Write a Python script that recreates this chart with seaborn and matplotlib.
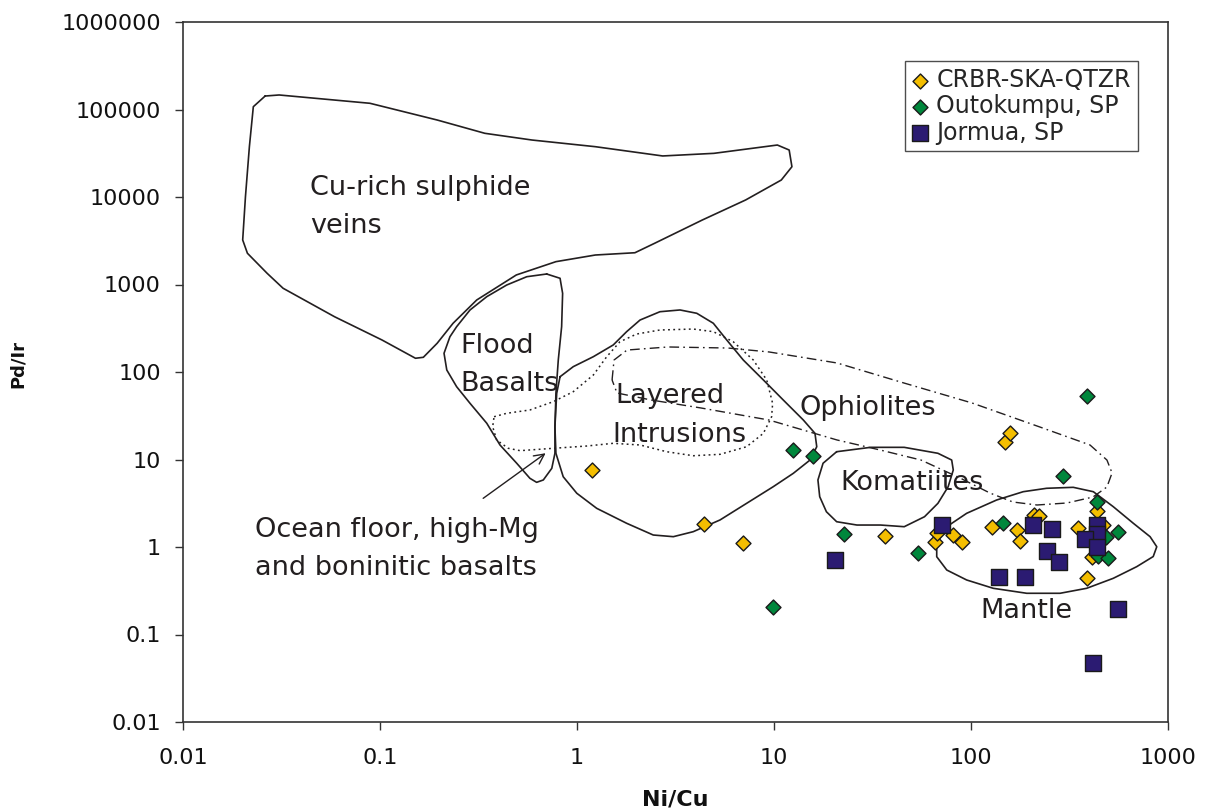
import numpy as np
import pandas as pd
import matplotlib
matplotlib.use("Agg")
import matplotlib.pyplot as plt
from matplotlib.ticker import FixedLocator, FixedFormatter, NullLocator
import seaborn as sns

# ---------------------------------------------------------------
# Sample analyses: Ni/Cu and Pd/Ir ratios
# ---------------------------------------------------------------
crbr_ni_cu = [1.19, 4.4, 7.0, 36.6, 65.6, 67.2, 81, 90, 128, 171, 178,
              209, 221, 149, 158, 349, 436, 470, 411, 388]
crbr_pd_ir = [7.6, 1.83, 1.10, 1.34, 1.14, 1.45, 1.37, 1.14, 1.69, 1.56, 1.17,
              2.32, 2.25, 15.8, 20.1, 1.65, 2.58, 1.8, 0.77, 0.44]

outokumpu_ni_cu = [9.9, 12.5, 15.8, 22.6, 53.8, 145, 388, 293, 436, 557,
                   484, 441, 496]
outokumpu_pd_ir = [0.206, 12.9, 11.0, 1.41, 0.85, 1.88, 53, 6.5, 3.27, 1.48,
                   1.30, 0.79, 0.75]

jormua_ni_cu = [20.4, 71.3, 139, 188, 206, 258, 243, 280, 436, 436, 379,
                436, 557, 416]
jormua_pd_ir = [0.71, 1.78, 0.454, 0.454, 1.78, 1.61, 0.90, 0.674, 1.78,
                1.41, 1.23, 1.0, 0.195, 0.047]

series_names = ["CRBR-SKA-QTZR", "Outokumpu, SP", "Jormua, SP"]
series_colors = ["#F4BE00", "#00873C", "#2B1B72"]
series_markers = ["D", "D", "s"]

# ---------------------------------------------------------------
# Compositional fields, vertices as (log10 Ni/Cu, log10 Pd/Ir)
# ---------------------------------------------------------------
field_cu_veins = [
    (-1.583, 5.154), (-1.512, 5.166), (-1.051, 5.071), (-0.710, 4.880),
    (-0.468, 4.728), (-0.228, 4.651), (0.093, 4.575), (0.435, 4.469),
    (0.695, 4.499), (1.017, 4.594), (1.077, 4.537), (1.091, 4.346),
    (1.037, 4.194), (0.856, 3.966), (0.636, 3.737), (0.394, 3.471),
    (0.294, 3.363), (0.093, 3.337), (-0.107, 3.261), (-0.308, 3.109),
    (-0.509, 2.823), (-0.629, 2.557), (-0.710, 2.328), (-0.780, 2.168),
    (-0.820, 2.157), (-0.990, 2.366), (-1.231, 2.632), (-1.492, 2.957),
    (-1.573, 3.128), (-1.673, 3.357), (-1.697, 3.509), (-1.683, 4.003),
    (-1.663, 4.575), (-1.643, 5.032)]

field_flood_basalts = [
    (-0.154, 3.120), (-0.086, 3.071), (-0.073, 2.899), (-0.078, 2.518),
    (-0.095, 2.137), (-0.107, 1.757), (-0.112, 1.375), (-0.112, 1.071),
    (-0.128, 0.899), (-0.171, 0.766), (-0.205, 0.739), (-0.239, 0.785),
    (-0.306, 0.957), (-0.391, 1.166), (-0.458, 1.414), (-0.543, 1.642),
    (-0.611, 1.832), (-0.661, 2.023), (-0.675, 2.214), (-0.645, 2.403),
    (-0.611, 2.518), (-0.543, 2.709), (-0.458, 2.861), (-0.357, 2.994),
    (-0.255, 3.089)]

field_layered = [
    (-0.086, 1.946), (-0.019, 2.061), (0.083, 2.175), (0.184, 2.309),
    (0.252, 2.461), (0.320, 2.594), (0.421, 2.689), (0.523, 2.709),
    (0.608, 2.671), (0.692, 2.557), (0.760, 2.366), (0.844, 2.137),
    (0.946, 1.909), (1.047, 1.680), (1.149, 1.451), (1.208, 1.299),
    (1.217, 1.146), (1.183, 0.994), (1.098, 0.842), (0.996, 0.689),
    (0.861, 0.499), (0.726, 0.309), (0.590, 0.175), (0.489, 0.118),
    (0.387, 0.137), (0.252, 0.271), (0.100, 0.442), (-0.001, 0.614),
    (-0.070, 0.803), (-0.107, 1.071), (-0.112, 1.375), (-0.103, 1.757)]

field_ocean_floor = [
    (-0.421, 1.489), (-0.357, 1.528), (-0.239, 1.566), (-0.120, 1.661),
    (-0.019, 1.775), (0.083, 1.966), (0.151, 2.175), (0.218, 2.346),
    (0.303, 2.434), (0.421, 2.480), (0.590, 2.491), (0.692, 2.461),
    (0.793, 2.346), (0.895, 2.137), (0.963, 1.909), (0.993, 1.642),
    (0.988, 1.489), (0.946, 1.299), (0.861, 1.146), (0.726, 1.059),
    (0.590, 1.043), (0.455, 1.089), (0.320, 1.166), (0.184, 1.185),
    (0.049, 1.154), (-0.120, 1.128), (-0.289, 1.101), (-0.349, 1.128),
    (-0.408, 1.223), (-0.428, 1.375)]

field_ophiolites = [
    (0.178, 1.909), (0.188, 2.137), (0.254, 2.251), (0.462, 2.286),
    (0.766, 2.274), (0.975, 2.229), (1.320, 2.103), (1.660, 1.874),
    (2.005, 1.646), (2.350, 1.371), (2.604, 1.166), (2.690, 0.994),
    (2.716, 0.846), (2.690, 0.686), (2.619, 0.571), (2.487, 0.503),
    (2.335, 0.480), (2.213, 0.514), (2.096, 0.617), (1.944, 0.789),
    (1.746, 0.994), (1.538, 1.109), (1.320, 1.223), (0.975, 1.451),
    (0.629, 1.589), (0.376, 1.680), (0.203, 1.760)]

field_komatiites = [
    (1.318, 1.089), (1.490, 1.139), (1.661, 1.139), (1.832, 1.071),
    (1.902, 0.994), (1.910, 0.880), (1.884, 0.689), (1.832, 0.499),
    (1.764, 0.346), (1.661, 0.232), (1.541, 0.251), (1.421, 0.251),
    (1.318, 0.289), (1.266, 0.403), (1.232, 0.575), (1.223, 0.766),
    (1.249, 0.957)]

field_mantle = [
    (1.826, 0.042), (1.877, 0.232), (1.978, 0.385), (2.130, 0.537),
    (2.265, 0.632), (2.384, 0.671), (2.519, 0.682), (2.621, 0.632),
    (2.722, 0.461), (2.824, 0.271), (2.909, 0.118), (2.943, 0.003),
    (2.925, -0.109), (2.841, -0.225), (2.722, -0.358), (2.587, -0.472),
    (2.452, -0.529), (2.283, -0.529), (2.113, -0.472), (1.978, -0.377),
    (1.877, -0.263), (1.826, -0.111)]

# Field labels: (text, Ni/Cu, Pd/Ir) at the left end of each baseline
field_labels = [
    ("Cu-rich sulphide", 0.0442, 10540),
    ("veins", 0.0442, 3880),
    ("Flood", 0.255, 165),
    ("Basalts", 0.255, 60.7),
    ("Layered", 1.56, 44.2),
    ("Intrusions", 1.52, 16.0),
    ("Ophiolites", 13.5, 32.3),
    ("Komatiites", 21.6, 4.48),
    ("Mantle", 111, 0.154),
    ("Ocean floor, high-Mg", 0.0232, 1.30),
    ("and boninitic basalts", 0.0232, 0.478),
]
arrow_tail = (0.334, 3.6)
arrow_head = (0.693, 11.8)

x_ticks = [0.01, 0.1, 1, 10, 100, 1000]
x_tick_labels = ["0.01", "0.1", "1", "10", "100", "1000"]
y_ticks = [0.01, 0.1, 1, 10, 100, 1000, 10000, 100000, 1000000]
y_tick_labels = ["0.01", "0.1", "1", "10", "100", "1000", "10000",
                 "100000", "1000000"]

# ---------------------------------------------------------------
sns.set_style("white")
plt.rcParams["font.family"] = ["DejaVu Sans"]

frames = []
for name, xs, ys in zip(series_names,
                        [crbr_ni_cu, outokumpu_ni_cu, jormua_ni_cu],
                        [crbr_pd_ir, outokumpu_pd_ir, jormua_pd_ir]):
    frames.append(pd.DataFrame({"Ni/Cu": xs, "Pd/Ir": ys, "series": name}))
data = pd.concat(frames, ignore_index=True)

fig = plt.figure(figsize=(12.09, 8.09), dpi=100)
ax = fig.add_axes([183 / 1209, 87 / 809, 985 / 1209, 700 / 809])
ax.set_xscale("log")
ax.set_yscale("log")
ax.set_xlim(0.01, 1000)
ax.set_ylim(0.01, 1000000)

line_color = "#231F20"


def draw_field(vertices, **style):
    arr = np.asarray(vertices + [vertices[0]], dtype=float)
    ax.plot(10 ** arr[:, 0], 10 ** arr[:, 1], color=line_color,
            solid_joinstyle="round", **style)


draw_field(field_cu_veins, lw=1.2)
draw_field(field_flood_basalts, lw=1.2)
draw_field(field_layered, lw=1.2)
draw_field(field_komatiites, lw=1.2)
draw_field(field_mantle, lw=1.2)
draw_field(field_ocean_floor, lw=1.1, linestyle=(0, (1.2, 2.2)))
draw_field(field_ophiolites, lw=1.0, linestyle=(0, (7, 3, 1.2, 3)))

for text, xv, yv in field_labels:
    ax.text(xv, yv, text, ha="left", va="baseline", fontsize=19.5,
            family=["DejaVu Sans"], color=line_color)

ax.annotate("", xy=arrow_head, xytext=arrow_tail,
            arrowprops=dict(arrowstyle="->", lw=1.0, color=line_color,
                            mutation_scale=18, shrinkA=0, shrinkB=0))

marker_sizes = [58, 58, 133]
for name, color, marker, size in zip(series_names, series_colors,
                                     series_markers, marker_sizes):
    sub = data[data["series"] == name]
    sns.scatterplot(data=sub, x="Ni/Cu", y="Pd/Ir", ax=ax, color=color,
                    marker=marker, s=size, edgecolor="#1A1A1A",
                    linewidth=1.0, label=name, zorder=3)

ax.xaxis.set_major_locator(FixedLocator(x_ticks))
ax.xaxis.set_major_formatter(FixedFormatter(x_tick_labels))
ax.yaxis.set_major_locator(FixedLocator(y_ticks))
ax.yaxis.set_major_formatter(FixedFormatter(y_tick_labels))
ax.xaxis.set_minor_locator(NullLocator())
ax.yaxis.set_minor_locator(NullLocator())
ax.tick_params(axis="both", which="major", direction="out", length=6,
               width=1.0, color="#333333", labelsize=16, labelcolor="#111111",
               bottom=True, left=True, top=False, right=False)
ax.tick_params(axis="x", pad=13)
ax.tick_params(axis="y", pad=10)

for side in ["left", "bottom", "top", "right"]:
    ax.spines[side].set_visible(True)
    ax.spines[side].set_color("#333333")
    ax.spines[side].set_linewidth(1.2)

ax.set_xlabel("Ni/Cu", fontsize=16, fontweight="bold", color="#111111")
ax.set_ylabel("Pd/Ir", fontsize=13, fontweight="bold", color="#111111")
ax.xaxis.set_label_coords(0.5, -0.096)
ax.yaxis.set_label_coords(-0.158, 0.511)

leg = ax.legend(loc="upper left", bbox_to_anchor=(0.733, 0.944),
                frameon=True, fancybox=False, edgecolor="#222222",
                fontsize=17, borderpad=0.28, handlelength=0.75,
                handletextpad=0.3, labelspacing=0.1, borderaxespad=0,
                markerscale=1.0)
leg.get_frame().set_linewidth(1.0)

fig.savefig("out.png", dpi=100, facecolor="white")
